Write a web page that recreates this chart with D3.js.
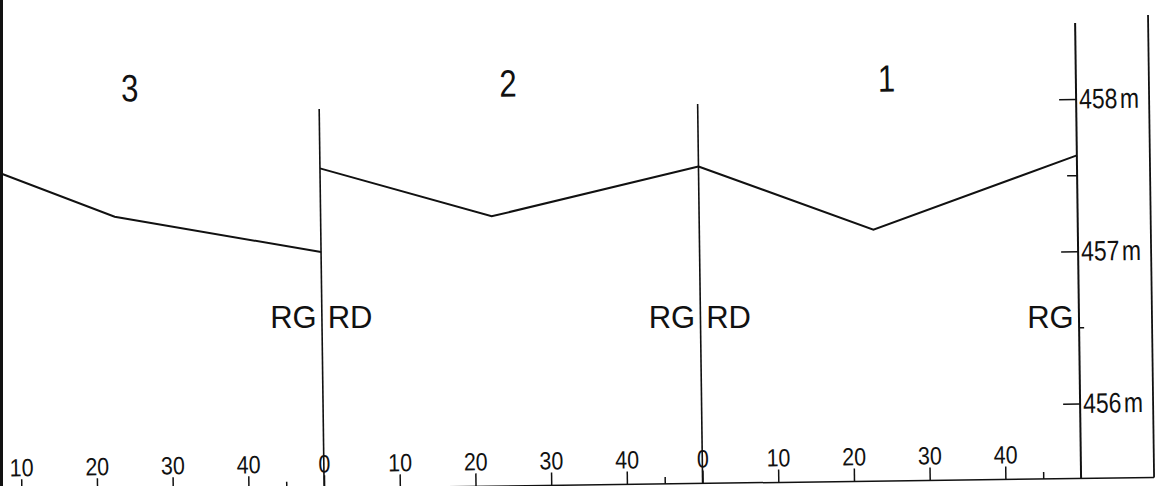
<!DOCTYPE html>
<html>
<head>
<meta charset="utf-8">
<script src="https://cdn.jsdelivr.net/npm/d3@7"></script>
<style>
  html, body { margin: 0; padding: 0; background: #fff; }
  svg { display: block; }
</style>
</head>
<body>
<div id="chart"></div>
<script>
// Cross sections of the bed, drawn from left to right
var sections = ['3', '2', '1'];
var sectionLength = 50;

// Bed level (m) against the distance (m) from the left bank of each section
var profile3 = [[7, 457.62], [22.8, 457.31], [50, 457.06]];
var profile2 = [[0, 457.61], [22.6, 457.28], [50, 457.59]];
var profile1 = [[0, 457.59], [23.0, 457.16], [50, 457.63]];
var profiles = [profile3, profile2, profile1];

// Tick values inside one section
var distanceTicks = [0, 10, 20, 30, 40];
var minorDistanceTicks = [45];

// Levels on the right hand axis
var levelTicks = [456, 457, 458];
var minorLevelLeft = [457.5];
var minorLevelRight = [456.5];

// Bank names on both sides of each section boundary
var boundaries = [50, 100, 150];
var leftBanks = ['RG', 'RG', 'RG'];
var rightBanks = ['RD', 'RD', ''];

var width = 1159;
var height = 486;
var font = '"Liberation Sans", Arial, sans-serif';
// The stencil digits are narrower than the letters
var condensed = 'scale(0.82,1)';
var ink = '#111';

var x = d3.scaleLinear().domain([0, 150]).range([-56.8, 1078.7]);
var y = d3.scaleLinear().domain([456, 458]).range([410, 105.6]);
var baseY = 485;
var frameX = x(150) + 73;

var svg = d3.select('#chart').append('svg')
            .attr('width', width)
            .attr('height', height)
            .attr('font-family', font);

svg.append('rect').attr('width', width).attr('height', height).attr('fill', '#fff');

// The sheet was scanned a little askew, so the drawing is turned slightly
var g = svg.append('g').attr('transform', 'rotate(-0.75,580,300)');

// Distance axis along the bottom, labels above the ticks
var xTicks = [];
var xMinor = [];
sections.forEach(function(s, i) {
  distanceTicks.forEach(function(t) { xTicks.push(i * sectionLength + t); });
  minorDistanceTicks.forEach(function(t) { xMinor.push(i * sectionLength + t); });
});
// the start of the first section lies off the sheet
xTicks = xTicks.filter(function(v) { return x(v) > 0; });

var xAxis = g.append('g')
  .attr('transform', 'translate(0,' + baseY + ')')
  .call(d3.axisTop(x)
          .tickValues(xTicks)
          .tickSize(13)
          .tickSizeOuter(0)
          .tickPadding(3)
          .tickFormat(function(d) { return d % sectionLength; }));
xAxis.select('.domain').remove();
xAxis.attr('font-family', font).attr('font-size', 25).attr('color', ink);
xAxis.selectAll('line').attr('stroke-width', 1.5);
xAxis.selectAll('text').attr('transform', 'scale(0.86,1)');

var xMinorAxis = g.append('g')
  .attr('transform', 'translate(0,' + baseY + ')')
  .call(d3.axisTop(x).tickValues(xMinor).tickSize(7).tickSizeOuter(0).tickFormat(''));
xMinorAxis.select('.domain').remove();
xMinorAxis.attr('color', ink).selectAll('line').attr('stroke-width', 1.5);

g.append('line')
 .attr('x1', x(0)).attr('x2', frameX)
 .attr('y1', baseY).attr('y2', baseY)
 .attr('stroke', ink).attr('stroke-width', 1.5);

// Level axis: ticks on the left of the line, labels on the right
var axisX = x(150);
var yTicks = g.append('g')
  .attr('transform', 'translate(' + axisX + ',0)')
  .call(d3.axisLeft(y).tickValues(levelTicks).tickSize(17).tickFormat(''));
yTicks.select('.domain').remove();

var yMinorL = g.append('g')
  .attr('transform', 'translate(' + axisX + ',0)')
  .call(d3.axisLeft(y).tickValues(minorLevelLeft).tickSize(10).tickFormat(''));
yMinorL.select('.domain').remove();

var yMinorR = g.append('g')
  .attr('transform', 'translate(' + axisX + ',0)')
  .call(d3.axisRight(y).tickValues(minorLevelRight).tickSize(5).tickFormat(''));
yMinorR.select('.domain').remove();

var yLabels = g.append('g')
  .attr('transform', 'translate(' + axisX + ',0)')
  .call(d3.axisRight(y).tickValues(levelTicks).tickSize(0).tickPadding(3));
yLabels.select('.domain').remove();
yLabels.attr('font-family', font).attr('font-size', 28);
yLabels.selectAll('.tick text').each(function(d) {
  var t = d3.select(this).text('').attr('x', 3.7).attr('transform', condensed);
  t.append('tspan').text(d);
  t.append('tspan').attr('dx', 3).text('m');
});

[yTicks, yMinorL, yMinorR, yLabels].forEach(function(a) {
  a.attr('color', ink).selectAll('line').attr('stroke-width', 1.5);
});

// Section boundaries, the level axis and the outer frame
g.selectAll('line.boundary')
 .data(boundaries.slice(0, 2))
 .enter().append('line')
 .attr('class', 'boundary')
 .attr('x1', function(d) { return x(d); })
 .attr('x2', function(d) { return x(d); })
 .attr('y1', y(458))
 .attr('y2', baseY)
 .attr('stroke', ink).attr('stroke-width', 1.6);

g.append('line')
 .attr('x1', axisX).attr('x2', axisX)
 .attr('y1', y(458.5)).attr('y2', baseY)
 .attr('stroke', ink).attr('stroke-width', 2);

g.append('line')
 .attr('x1', frameX).attr('x2', frameX)
 .attr('y1', y(458.5) - 7).attr('y2', baseY)
 .attr('stroke', ink).attr('stroke-width', 1.8);

// Bed profile, one path per section
g.selectAll('path.profile')
 .data(profiles)
 .enter().append('path')
 .attr('class', 'profile')
 .attr('d', function(d, i) {
   var offset = i * sectionLength;
   return d3.line()
     .x(function(p) { return x(offset + p[0]); })
     .y(function(p) { return y(p[1]); })(d);
 })
 .attr('fill', 'none')
 .attr('stroke', ink)
 .attr('stroke-width', 2);

// Section numbers above each profile
g.selectAll('g.section')
 .data(sections)
 .enter().append('g')
 .attr('class', 'section')
 .attr('transform', function(d, i) {
   return 'translate(' + x(i * sectionLength + sectionLength / 2) + ',' + (y(458) - 10) + ')';
 })
 .append('text')
 .attr('transform', condensed)
 .attr('text-anchor', 'middle')
 .attr('font-size', 38)
 .attr('fill', ink)
 .text(function(d) { return d; });

// Bank names, lettered straight on the sheet
var banks = svg.append('g')
  .attr('font-size', 31)
  .attr('fill', ink);

banks.selectAll('text.left')
 .data(boundaries)
 .enter().append('text')
 .attr('class', 'left')
 .attr('x', function(d) { return x(d) - 5; })
 .attr('y', y(456.5) - 6)
 .attr('text-anchor', 'end')
 .text(function(d, i) { return leftBanks[i]; });

banks.selectAll('text.right')
 .data(boundaries)
 .enter().append('text')
 .attr('class', 'right')
 .attr('x', function(d) { return x(d) + 6; })
 .attr('y', y(456.5) - 6)
 .text(function(d, i) { return rightBanks[i]; });

// Edge of the scanned sheet
svg.append('rect')
   .attr('x', 0).attr('y', 0)
   .attr('width', 3).attr('height', height)
   .attr('fill', ink);
</script>
</body>
</html>
